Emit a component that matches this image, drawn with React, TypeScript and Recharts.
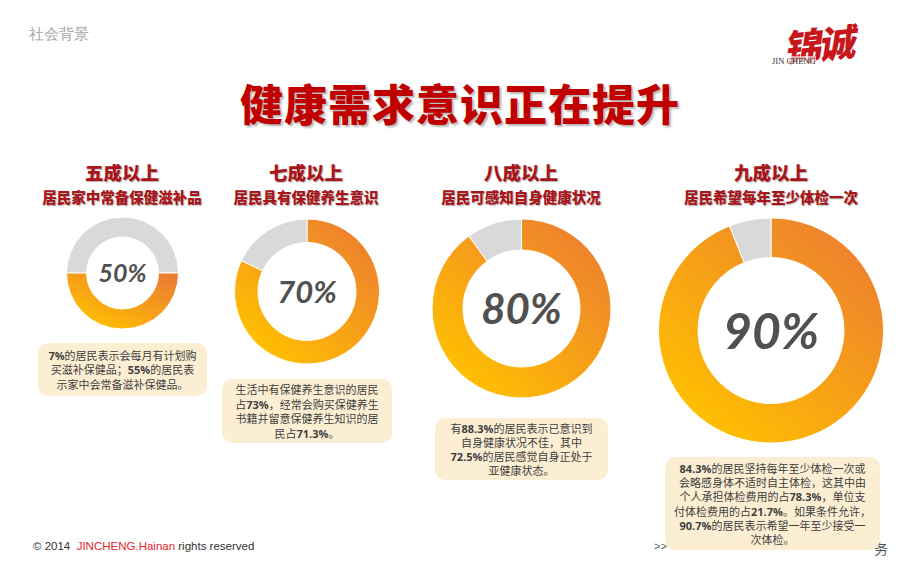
import { PieChart, Pie, Cell } from "recharts";

// share of each ring painted orange vs grey
const ringLabels = ["50%", "70%", "80%", "90%"];
const orangeShare = [50, 82, 90, 94];
const greyShare = [50, 18, 10, 6];

const headlines = ["五成以上", "七成以上", "八成以上", "九成以上"];
const subtitles = [
  "居民家中常备保健滋补品",
  "居民具有保健养生意识",
  "居民可感知自身健康状况",
  "居民希望每年至少体检一次",
];

// note boxes, one array of lines per column; **x** marks bold runs
const noteLines = [
  ["**7%**的居民表示会每月有计划购", "买滋补保健品；**55%**的居民表", "示家中会常备滋补保健品。"],
  ["生活中有保健养生意识的居民", "占**73%**，经常会购买保健养生", "书籍并留意保健养生知识的居", "民占**71.3%**。"],
  ["有**88.3%**的居民表示已意识到", "自身健康状况不佳，其中", "**72.5%**的居民感觉自身正处于", "亚健康状态。"],
  [
    "**84.3%**的居民坚持每年至少体检一次或",
    "会略感身体不适时自主体检，这其中由",
    "个人承担体检费用的占**78.3%**，单位支",
    "付体检费用的占**21.7%**。如果条件允许，",
    "**90.7%**的居民表示希望一年至少接受一",
    "次体检。",
  ],
];

const rings = [
  { cx: 122.5, cy: 273, inner: 36, outer: 56, start: 0, font: 25 },
  { cx: 307, cy: 291.5, inner: 49, outer: 72.5, start: 90, font: 31 },
  { cx: 521.5, cy: 308.5, inner: 58.5, outer: 89.5, start: 90, font: 42 },
  { cx: 771, cy: 330.5, inner: 73, outer: 112.5, start: 90, font: 50 },
];
const colCenters = [122, 306, 521, 771];
const boxes = [
  { left: 38, top: 343, width: 169, height: 53, lh: 14.2 },
  { left: 222, top: 379, width: 170, height: 64, lh: 14.5 },
  { left: 435, top: 418, width: 173, height: 62, lh: 14.2 },
  { left: 665, top: 457, width: 215, height: 93, lh: 14.2 },
];

const ORANGE = "#ED7D31";
const YELLOW = "#FFC000";
const GREY = "#D9D9D9";
const cjk = '"Noto Sans CJK SC", "Noto Sans", sans-serif';

const renderLine = (line: string) =>
  line.split("**").map((part, i) =>
    i % 2 === 1 ? (
      <b key={i} style={{ fontFamily: '"Open Sans", sans-serif', fontWeight: 700 }}>
        {part}
      </b>
    ) : (
      <span key={i}>{part}</span>
    )
  );

const ringData = (i: number) =>
  i === 0
    ? [
        { name: "grey", value: greyShare[i] },
        { name: "orange", value: orangeShare[i] },
      ]
    : [
        { name: "orange", value: orangeShare[i] },
        { name: "grey", value: greyShare[i] },
      ];

const redHead = {
  position: "absolute" as const,
  transform: "translateX(-50%)",
  whiteSpace: "nowrap" as const,
  color: "#A8151B",
  fontFamily: cjk,
  fontWeight: 900,
  textShadow: "1px 1px 1px rgba(0,0,0,0.3)",
};

export default function App() {
  return (
    <div
      style={{
        position: "absolute",
        left: 0,
        top: 0,
        width: 920,
        height: 575,
        background: "#fff",
        overflow: "hidden",
        fontFamily: cjk,
      }}
    >
      <svg width={0} height={0} style={{ position: "absolute" }}>
        <defs>
          <linearGradient id="ringFill" x1="0.9" y1="0.05" x2="0.15" y2="0.9">
            <stop offset="0%" stopColor={ORANGE} />
            <stop offset="100%" stopColor={YELLOW} />
          </linearGradient>
        </defs>
      </svg>

      <div style={{ position: "absolute", left: 29, top: 25, fontSize: 15, color: "#a6a6a6", fontFamily: "serif" }}>
        社会背景
      </div>

      {/* logo */}
      <div
        style={{
          position: "absolute",
          left: 783,
          top: 16,
          fontSize: 37,
          fontWeight: 900,
          fontStyle: "italic",
          color: "#C8161D",
          letterSpacing: -3,
          transform: "rotate(-6deg)",
        }}
      >
        锦诚
      </div>
      <div
        style={{
          position: "absolute",
          left: 772,
          top: 56,
          fontSize: 8.5,
          color: "#333",
          fontFamily: '"Liberation Serif", serif',
          background: "rgba(255,255,255,0.6)",
        }}
      >
        JIN CHENG
      </div>

      <div
        style={{
          position: "absolute",
          left: 460,
          top: 71,
          transform: "translateX(-50%)",
          whiteSpace: "nowrap",
          fontSize: 43,
          fontWeight: 900,
          color: "#C00000",
          letterSpacing: 1,
          textShadow: "2px 2px 2px rgba(0,0,0,0.28)",
        }}
      >
        健康需求意识正在提升
      </div>

      {headlines.map((h, i) => (
        <div key={h} style={{ ...redHead, left: colCenters[i], top: 161, fontSize: 18.5, lineHeight: "22px" }}>
          {h}
        </div>
      ))}
      {subtitles.map((s, i) => (
        <div key={s} style={{ ...redHead, left: colCenters[i], top: 187.5, fontSize: 14.5, lineHeight: "18px" }}>
          {s}
        </div>
      ))}

      <div style={{ position: "absolute", left: 0, top: 0 }}>
        <PieChart width={920} height={575} margin={{ top: 0, right: 0, bottom: 0, left: 0 }}>
          {rings.map((r, i) => (
            <Pie
              key={ringLabels[i]}
              data={ringData(i)}
              dataKey="value"
              cx={r.cx}
              cy={r.cy}
              innerRadius={r.inner}
              outerRadius={r.outer}
              startAngle={r.start}
              endAngle={r.start - 360 * (i === 0 ? -1 : 1)}
              stroke="#fff"
              strokeWidth={1}
              isAnimationActive={false}
            >
              {ringData(i).map((d) => (
                <Cell key={d.name} fill={d.name === "orange" ? "url(#ringFill)" : GREY} />
              ))}
            </Pie>
          ))}
        </PieChart>
      </div>

      {rings.map((r, i) => (
        <div
          key={"lbl" + i}
          style={{
            position: "absolute",
            left: r.cx,
            top: r.cy,
            transform: "translate(-50%, -52%)",
            fontFamily: "Lato, sans-serif",
            fontStyle: "italic",
            fontWeight: 700,
            fontSize: r.font,
            color: "#505050",
            whiteSpace: "nowrap",
          }}
        >
          {ringLabels[i]}
        </div>
      ))}

      {/* footer */}
      <div style={{ position: "absolute", left: 33, top: 540, fontSize: 11.5, color: "#333", fontFamily: '"Liberation Sans Narrow", "Liberation Sans", sans-serif', whiteSpace: "nowrap" }}>
        © 2014&nbsp; <span style={{ color: "#E2262E" }}>JINCHENG.Hainan</span> rights reserved
      </div>
      <div style={{ position: "absolute", left: 654, top: 540, fontSize: 11, color: "#555", fontFamily: "sans-serif" }}>
        &gt;&gt;
      </div>
      <div style={{ position: "absolute", left: 874, top: 538, fontSize: 14, color: "#555" }}>务</div>

      {noteLines.map((lines, i) => {
        const b = boxes[i];
        return (
          <div
            key={"box" + i}
            style={{
              position: "absolute",
              left: b.left,
              top: b.top,
              width: b.width,
              height: b.height,
              background: "#FCEED3",
              borderRadius: 10,
              boxSizing: "border-box",
              display: "flex",
              flexDirection: "column",
              justifyContent: "center",
              alignItems: "center",
              fontSize: 11,
              lineHeight: b.lh + "px",
              color: "#3f3f3f",
            }}
          >
            {lines.map((l, j) => (
              <div key={j} style={{ whiteSpace: "nowrap", height: b.lh }}>
                {renderLine(l)}
              </div>
            ))}
          </div>
        );
      })}
    </div>
  );
}
